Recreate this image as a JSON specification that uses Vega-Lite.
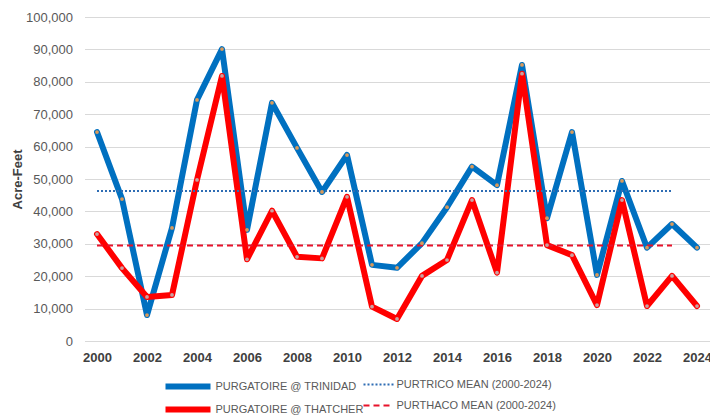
{
  "$schema": "https://vega.github.io/schema/vega-lite/v6.json",
  "width": 625,
  "height": 324,
  "autosize": {"type": "none"},
  "padding": {"left": 84.5, "top": 17, "right": 0, "bottom": 77},
  "background": "white",
  "config": {
    "view": {"stroke": null},
    "font": "Liberation Sans"
  },
  "data": {
    "values": [
      {"year": 2000, "series": "PURGATOIRE @ TRINIDAD", "value": 64500},
      {"year": 2001, "series": "PURGATOIRE @ TRINIDAD", "value": 43800},
      {"year": 2002, "series": "PURGATOIRE @ TRINIDAD", "value": 8000},
      {"year": 2003, "series": "PURGATOIRE @ TRINIDAD", "value": 34900},
      {"year": 2004, "series": "PURGATOIRE @ TRINIDAD", "value": 74400},
      {"year": 2005, "series": "PURGATOIRE @ TRINIDAD", "value": 90100},
      {"year": 2006, "series": "PURGATOIRE @ TRINIDAD", "value": 34300},
      {"year": 2007, "series": "PURGATOIRE @ TRINIDAD", "value": 73500},
      {"year": 2008, "series": "PURGATOIRE @ TRINIDAD", "value": 59600},
      {"year": 2009, "series": "PURGATOIRE @ TRINIDAD", "value": 46000},
      {"year": 2010, "series": "PURGATOIRE @ TRINIDAD", "value": 57400},
      {"year": 2011, "series": "PURGATOIRE @ TRINIDAD", "value": 23500},
      {"year": 2012, "series": "PURGATOIRE @ TRINIDAD", "value": 22600},
      {"year": 2013, "series": "PURGATOIRE @ TRINIDAD", "value": 30200},
      {"year": 2014, "series": "PURGATOIRE @ TRINIDAD", "value": 41300},
      {"year": 2015, "series": "PURGATOIRE @ TRINIDAD", "value": 53800},
      {"year": 2016, "series": "PURGATOIRE @ TRINIDAD", "value": 48100},
      {"year": 2017, "series": "PURGATOIRE @ TRINIDAD", "value": 85200},
      {"year": 2018, "series": "PURGATOIRE @ TRINIDAD", "value": 37900},
      {"year": 2019, "series": "PURGATOIRE @ TRINIDAD", "value": 64500},
      {"year": 2020, "series": "PURGATOIRE @ TRINIDAD", "value": 20400},
      {"year": 2021, "series": "PURGATOIRE @ TRINIDAD", "value": 49400},
      {"year": 2022, "series": "PURGATOIRE @ TRINIDAD", "value": 28800},
      {"year": 2023, "series": "PURGATOIRE @ TRINIDAD", "value": 36100},
      {"year": 2024, "series": "PURGATOIRE @ TRINIDAD", "value": 28800},
      {"year": 2000, "series": "PURGATOIRE @ THATCHER", "value": 33000},
      {"year": 2001, "series": "PURGATOIRE @ THATCHER", "value": 22500},
      {"year": 2002, "series": "PURGATOIRE @ THATCHER", "value": 13600},
      {"year": 2003, "series": "PURGATOIRE @ THATCHER", "value": 14200},
      {"year": 2004, "series": "PURGATOIRE @ THATCHER", "value": 49700},
      {"year": 2005, "series": "PURGATOIRE @ THATCHER", "value": 81800},
      {"year": 2006, "series": "PURGATOIRE @ THATCHER", "value": 25200},
      {"year": 2007, "series": "PURGATOIRE @ THATCHER", "value": 40200},
      {"year": 2008, "series": "PURGATOIRE @ THATCHER", "value": 26000},
      {"year": 2009, "series": "PURGATOIRE @ THATCHER", "value": 25500},
      {"year": 2010, "series": "PURGATOIRE @ THATCHER", "value": 44500},
      {"year": 2011, "series": "PURGATOIRE @ THATCHER", "value": 10600},
      {"year": 2012, "series": "PURGATOIRE @ THATCHER", "value": 6800},
      {"year": 2013, "series": "PURGATOIRE @ THATCHER", "value": 20100},
      {"year": 2014, "series": "PURGATOIRE @ THATCHER", "value": 25000},
      {"year": 2015, "series": "PURGATOIRE @ THATCHER", "value": 43500},
      {"year": 2016, "series": "PURGATOIRE @ THATCHER", "value": 21100},
      {"year": 2017, "series": "PURGATOIRE @ THATCHER", "value": 82500},
      {"year": 2018, "series": "PURGATOIRE @ THATCHER", "value": 29600},
      {"year": 2019, "series": "PURGATOIRE @ THATCHER", "value": 26500},
      {"year": 2020, "series": "PURGATOIRE @ THATCHER", "value": 11100},
      {"year": 2021, "series": "PURGATOIRE @ THATCHER", "value": 43500},
      {"year": 2022, "series": "PURGATOIRE @ THATCHER", "value": 10800},
      {"year": 2023, "series": "PURGATOIRE @ THATCHER", "value": 20100},
      {"year": 2024, "series": "PURGATOIRE @ THATCHER", "value": 10800},
      {"year": 2000, "series": "PURTRICO MEAN (2000-2024)", "value": 46300},
      {"year": 2023, "series": "PURTRICO MEAN (2000-2024)", "value": 46300},
      {"year": 2000, "series": "PURTHACO MEAN (2000-2024)", "value": 29500},
      {"year": 2023, "series": "PURTHACO MEAN (2000-2024)", "value": 29500}
    ]
  },
  "encoding": {
    "x": {
      "field": "year", "type": "quantitative",
      "scale": {"domain": [1999.5, 2024.5], "nice": false, "zero": false},
      "axis": {
        "values": [2000, 2002, 2004, 2006, 2008, 2010, 2012, 2014, 2016, 2018, 2020, 2022, 2024],
        "format": "d", "title": null, "grid": false, "ticks": false, "domain": false,
        "labelFontWeight": "bold", "labelFontSize": 13, "labelColor": "#404040",
        "labelPadding": 10, "labelFlush": false
      }
    },
    "y": {
      "field": "value", "type": "quantitative",
      "scale": {"domain": [0, 100000], "nice": false},
      "axis": {
        "values": [0, 10000, 20000, 30000, 40000, 50000, 60000, 70000, 80000, 90000, 100000],
        "format": ",.0f", "title": "Acre-Feet", "titleFontWeight": "bold", "titleFontSize": 13,
        "titleColor": "#404040", "titlePadding": 1,
        "grid": true, "gridColor": "#d9d9d9", "gridWidth": 1,
        "ticks": false, "domain": false,
        "labelFontSize": 13, "labelColor": "#595959", "labelPadding": 12
      }
    }
  },
  "resolve": {
    "scale": {"color": "independent", "strokeDash": "independent"},
    "legend": {"color": "independent", "strokeDash": "independent"}
  },
  "layer": [
    {
      "transform": [{"filter": "indexof(datum.series, 'MEAN') < 0"}],
      "mark": {"type": "line", "strokeJoin": "round", "strokeCap": "round", "strokeWidth": 6},
      "encoding": {
        "color": {"field": "series", "type": "nominal",
          "scale": {"domain": ["PURGATOIRE @ TRINIDAD", "PURGATOIRE @ THATCHER"],
                    "range": ["#0070C0", "#FF0000"]},
          "legend": {
            "orient": "none", "legendX": 108, "legendY": 359, "direction": "vertical",
            "title": null, "symbolType": "M-5,0H1", "symbolSize": 225, "symbolStrokeWidth": 6,
            "labelFontSize": 11, "labelColor": "#595959", "labelLimit": 300,
            "rowPadding": -6, "labelOffset": 2
          }
        }
      }
    },
    {
      "transform": [{"filter": "indexof(datum.series, 'MEAN') >= 0"}],
      "mark": {"type": "line", "strokeWidth": 2},
      "encoding": {
        "color": {"field": "series", "type": "nominal",
          "scale": {"domain": ["PURTRICO MEAN (2000-2024)", "PURTHACO MEAN (2000-2024)"],
                    "range": ["#2E6DB4", "#E8122B"]},
          "legend": {
            "orient": "none", "legendX": 293, "legendY": 359, "direction": "vertical",
            "title": null, "symbolType": "M-3,0H1", "symbolSize": 225, "symbolStrokeWidth": 2,
            "labelFontSize": 11, "labelColor": "#595959", "labelLimit": 300,
            "rowPadding": 7, "labelOffset": 2
          }
        },
        "strokeDash": {"field": "series", "type": "nominal",
          "scale": {"domain": ["PURTRICO MEAN (2000-2024)", "PURTHACO MEAN (2000-2024)"],
                    "range": [[2, 2], [6, 4]]},
          "legend": {
            "orient": "none", "legendX": 293, "legendY": 359, "direction": "vertical",
            "title": null, "symbolType": "M-3,0H1", "symbolSize": 225, "symbolStrokeWidth": 2,
            "labelFontSize": 11, "labelColor": "#595959", "labelLimit": 300,
            "rowPadding": 7, "labelOffset": 2
          }
        }
      }
    },
    {
      "transform": [{"filter": "indexof(datum.series, 'MEAN') < 0"}],
      "mark": {"type": "point", "filled": true, "size": 14, "opacity": 1},
      "encoding": {
        "color": {
          "condition": {"test": "datum.series == 'PURGATOIRE @ TRINIDAD'", "value": "#D99A5B"},
          "value": "#C9A2A2"
        }
      }
    }
  ]
}
